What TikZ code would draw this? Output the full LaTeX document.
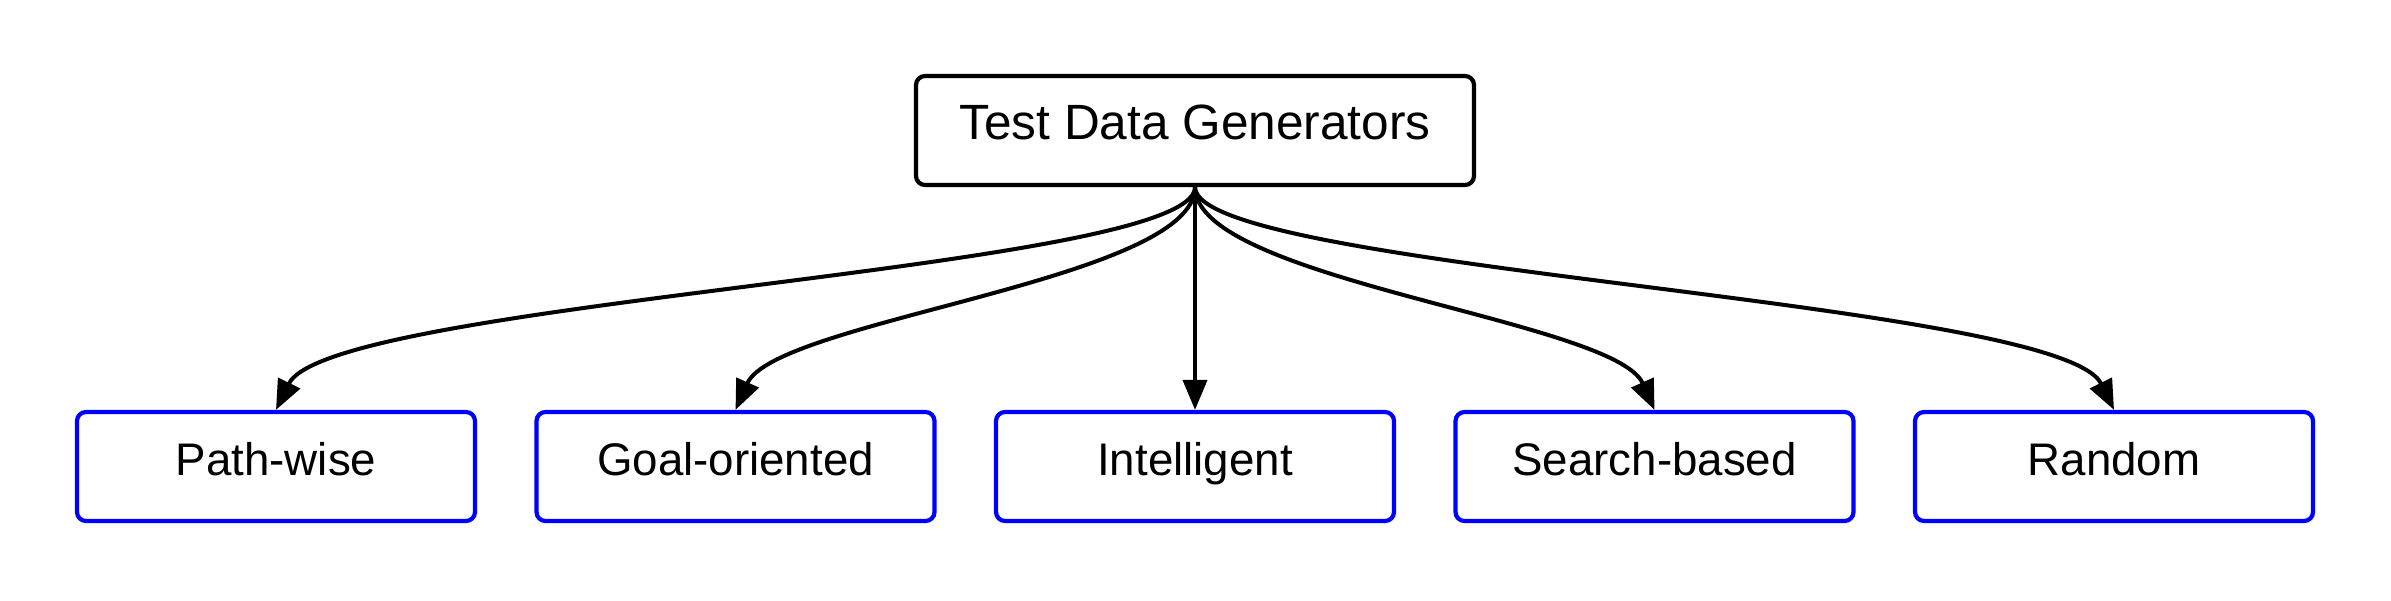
\documentclass[tikz,border=0pt]{standalone}
\usepackage{fontspec}
\setmainfont{Liberation Sans}
\usetikzlibrary{arrows.meta}
\begin{document}
\begin{tikzpicture}[
	rootbox/.style={draw=black, line width=0.042cm, rounded corners=0.09cm, minimum width=5.58cm, minimum height=1.09cm, inner sep=0pt, text height=0.34cm, text depth=0.16cm, font=\fontsize{14.1}{16}\selectfont},
	kindbox/.style={draw=blue, line width=0.042cm, rounded corners=0.09cm, minimum width=3.98cm, minimum height=1.09cm, inner sep=0pt, text height=0.32cm, text depth=0.14cm, font=\fontsize{13}{15}\selectfont},
	arr/.style={draw=black, line width=0.04cm, -{Triangle[length=0.3cm, width=0.24cm]}}
	]
	\useasboundingbox (0,0) rectangle (23.91,6);
	\node[rootbox] (top) at (11.95,4.695) {Test Data Generators};
	
	\node[kindbox] (pathwise) at (2.76,1.335) {Path-wise};
	\node[kindbox] (goal) at (7.355,1.335) {Goal-oriented};
	\node[kindbox] (intel) at (11.95,1.335) {Intelligent};
	\node[kindbox] (search) at (16.545,1.335) {Search-based};
	\node[kindbox] (random) at (21.14,1.335) {Random};
	
	\draw[arr] (top.south) .. controls +(0,-0.83) and +(0.54,1.10) .. (pathwise.north);
	\draw[arr] (top.south) .. controls +(0,-0.93) and +(0.40,0.90) .. (goal.north);
	\draw[arr] (top.south) -- (intel.north);
	\draw[arr] (top.south) .. controls +(0,-0.93) and +(-0.40,0.90) .. (search.north);
	\draw[arr] (top.south) .. controls +(0,-0.83) and +(-0.54,1.10) .. (random.north);
\end{tikzpicture}
\end{document}
